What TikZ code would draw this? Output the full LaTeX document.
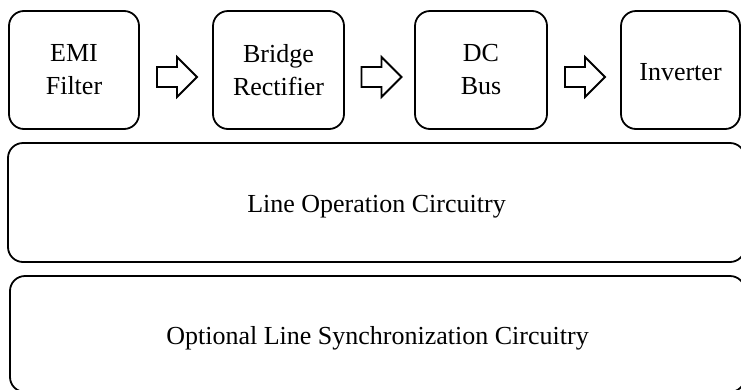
\documentclass[tikz,border=0pt]{standalone}
\usepackage{fontspec}
\setmainfont{Liberation Serif}
\usetikzlibrary{calc}
\begin{document}
\begin{tikzpicture}[x=1pt,y=-1pt,
  box/.style={draw, line width=1.8pt, rounded corners=15pt, align=center,
    font=\fontsize{26}{33}\selectfont, inner sep=0pt},
  oneline/.style={box, text height=20pt, text depth=0pt},
  blockarrow/.style={draw, line width=1.8pt, line join=miter}]
\useasboundingbox (0,0) rectangle (741,389);
\node[box, minimum width=130pt, minimum height=118pt] (emi) at (74,70) {EMI\\Filter};
\node[box, minimum width=131pt, minimum height=118pt] (br) at (278.5,70) {Bridge\\Rectifier};
\node[box, minimum width=132pt, minimum height=118pt] (dc) at (481,70) {DC\\Bus};
\node[oneline, minimum width=119pt, minimum height=118pt] (inv) at (680.5,70) {Inverter};
\node[oneline, minimum width=737pt, minimum height=119pt] (loc) at (376.5,202.5) {Line Operation Circuitry};
\node[oneline, minimum width=735pt, minimum height=116pt] (olsc) at (377.5,334) {Optional Line Synchronization Circuitry};
\coordinate (a1) at ($(emi.east)!0.5!(br.west)+(1,7)$);
\coordinate (a2) at ($(br.east)!0.5!(dc.west)+(2,7)$);
\coordinate (a3) at ($(dc.east)!0.5!(inv.west)+(1,7)$);
\foreach \c in {a1,a2,a3}{
  \draw[blockarrow] ([shift={(-20,-10)}]\c) -- ++(20,0) -- ++(0,-10) -- ++(20,20)
    -- ++(-20,20) -- ++(0,-10) -- ++(-20,0) -- cycle;
}
\end{tikzpicture}
\end{document}
